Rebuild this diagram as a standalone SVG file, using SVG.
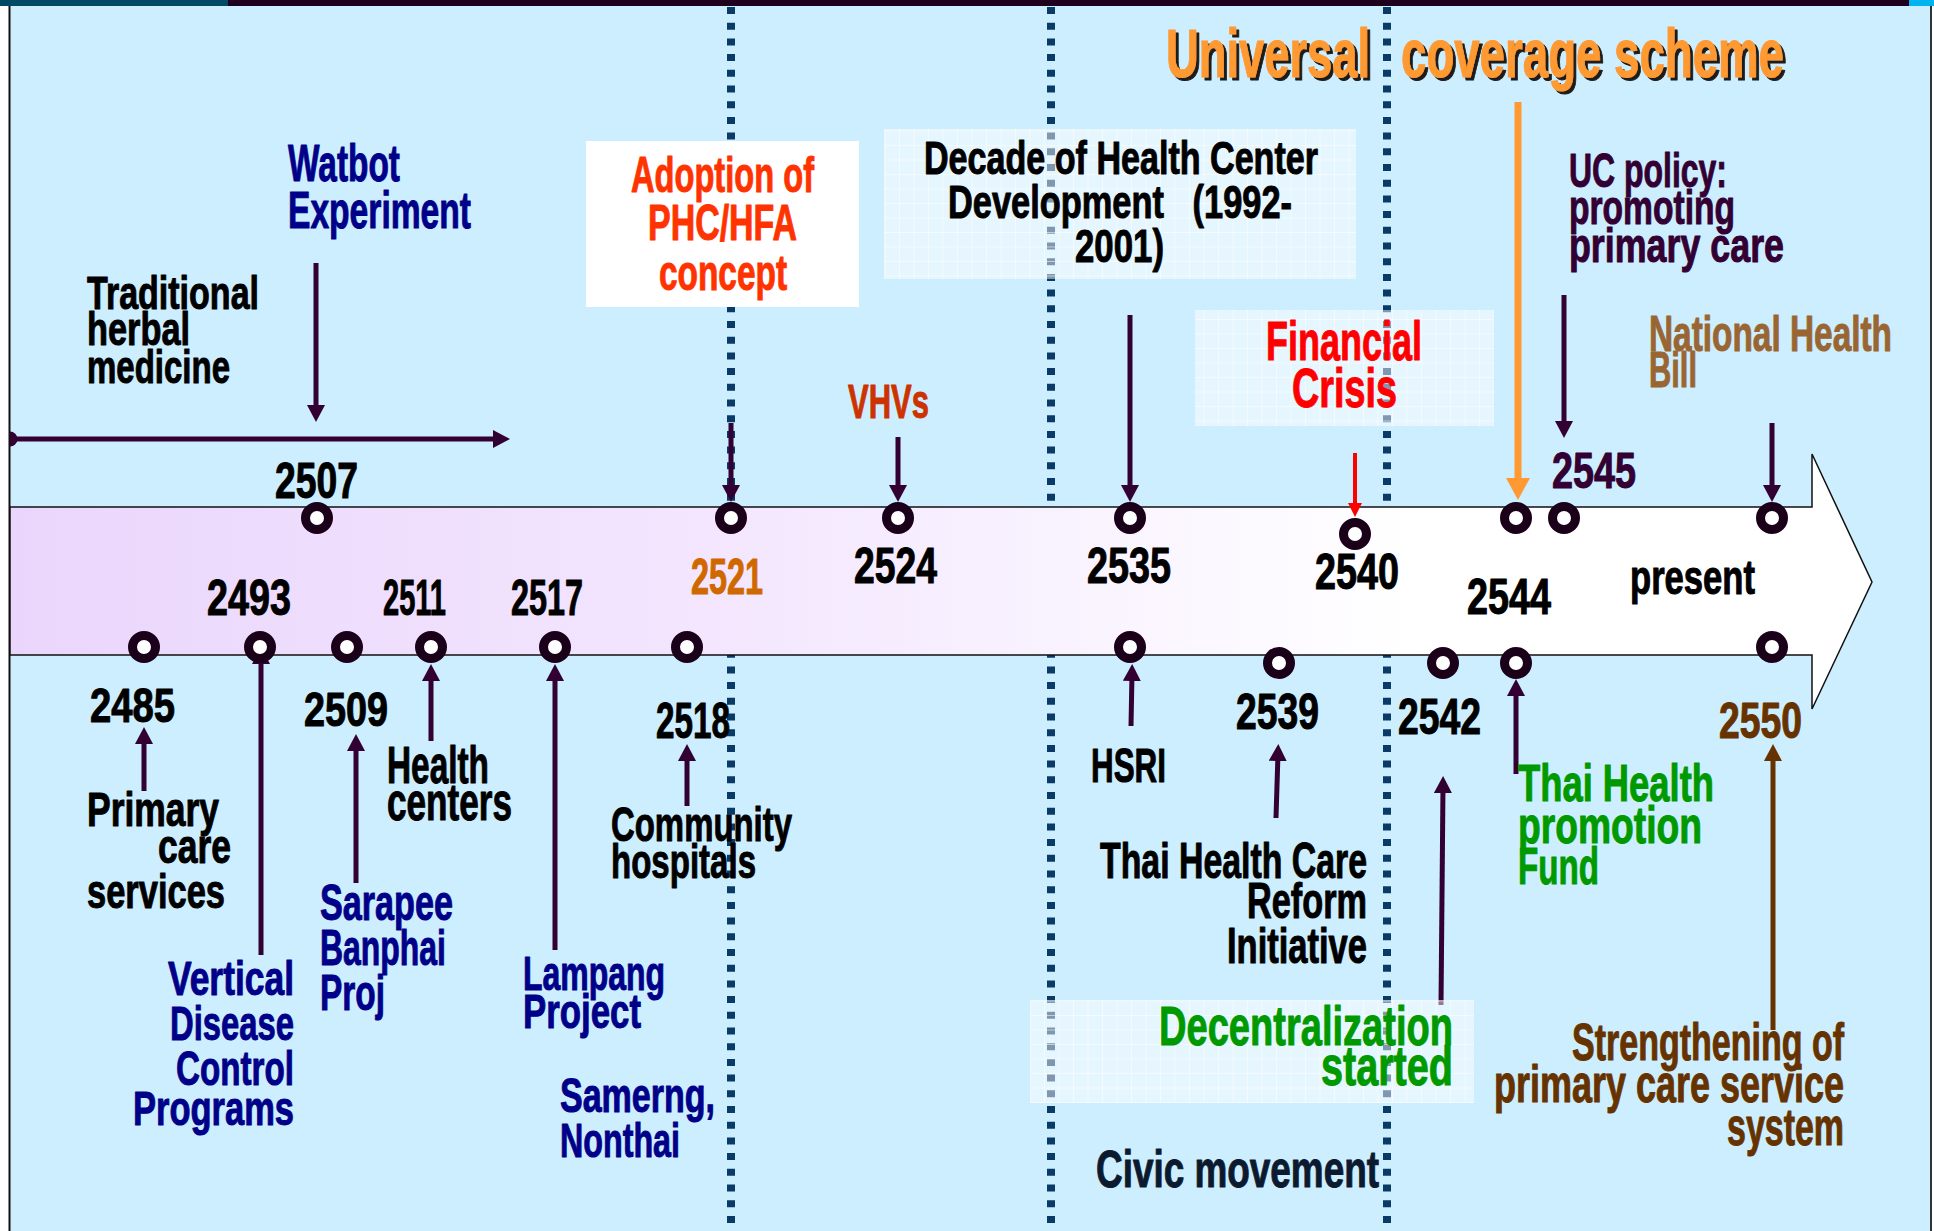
<svg xmlns="http://www.w3.org/2000/svg" width="1934" height="1231" viewBox="0 0 1934 1231">
  <style>
    .lbl { font-family: "Liberation Sans Narrow", "Liberation Sans", Arial, sans-serif; font-weight: bold; stroke-width: 1; stroke-linejoin: round; }
    .blk { fill: #000000; stroke: #000000; }
    .navy { fill: #000088; stroke: #000088; }
    .plum { fill: #330033; stroke: #330033; }
    .green { fill: #009900; stroke: #009900; }
    .brown { fill: #663300; stroke: #663300; }
    .phc { fill: #ff3300; stroke: #ff3300; }
    .vhv { fill: #cc3300; stroke: #cc3300; }
    .y2521 { fill: #d06800; stroke: #d06800; }
    .crisis { fill: #ff0000; stroke: #ff0000; }
    .ucs { fill: #ff9933; stroke: #ff9933; }
    .bill { fill: #996633; stroke: #996633; }
    .civic { fill: #0c1a30; stroke: #0c1a30; }
    .ring { fill: #ffffff; stroke: #1a0019; stroke-width: 9; }
    .era { stroke: #0a3a66; stroke-width: 8; stroke-dasharray: 7 8.7; fill: none; }
    .arr { stroke: #330033; stroke-width: 5; fill: none; marker-end: url(#head); }
    .glass { fill: #ffffff; fill-opacity: 0.48; }
  </style>
  <defs>
    <linearGradient id="bandFill" gradientUnits="userSpaceOnUse" x1="10" y1="0" x2="1420" y2="0">
      <stop offset="0" stop-color="#ead6fc"/>
      <stop offset="0.5" stop-color="#f3e6fe"/>
      <stop offset="1" stop-color="#ffffff"/>
    </linearGradient>
    <pattern id="grid" width="14.5" height="14.5" patternUnits="userSpaceOnUse">
      <path d="M0,0.5 H14.5 M0.5,0 V14.5" stroke="#ffffff" stroke-opacity="0.55" stroke-width="1" fill="none"/>
    </pattern>
    <filter id="shadow" x="-10%" y="-30%" width="120%" height="170%">
      <feDropShadow dx="3" dy="3" stdDeviation="0.4" flood-color="#1a1a1a" flood-opacity="1"/>
    </filter>
    <marker id="head" viewBox="0 0 17 18" refX="7" refY="9" markerWidth="17" markerHeight="18" markerUnits="userSpaceOnUse" orient="auto">
      <path d="M0,0 L17,9 L0,18 Z" fill="#330033"/>
    </marker>
    <marker id="headRed" viewBox="0 0 14 14" refX="4" refY="7" markerWidth="14" markerHeight="14" markerUnits="userSpaceOnUse" orient="auto">
      <path d="M0,0 L14,7 L0,14 Z" fill="#ff0000"/>
    </marker>
    <marker id="headOrange" viewBox="0 0 22 24" refX="7" refY="12" markerWidth="22" markerHeight="24" markerUnits="userSpaceOnUse" orient="auto">
      <path d="M0,0 L22,12 L0,24 Z" fill="#ff9933"/>
    </marker>
    <marker id="headBrown" viewBox="0 0 17 18" refX="7" refY="9" markerWidth="17" markerHeight="18" markerUnits="userSpaceOnUse" orient="auto">
      <path d="M0,0 L17,9 L0,18 Z" fill="#663300"/>
    </marker>
  </defs>

  <!-- page frame -->
  <rect x="0" y="0" width="1934" height="1231" fill="#ffffff"/>
  <rect x="10" y="6" width="1921" height="1225" fill="#cdeefe"/>
  <rect x="0" y="0" width="1934" height="6" fill="#1e001e"/>
  <rect x="0" y="0" width="228" height="6" fill="#004a66"/>
  <rect x="1909" y="0" width="25" height="6" fill="#00b4f0"/>
  <line x1="9.5" y1="6" x2="9.5" y2="1231" stroke="#111111" stroke-width="2"/>
  <line x1="1931" y1="6" x2="1931" y2="1231" stroke="#333333" stroke-width="2"/>

  <!-- period dividers -->
  <g id="period-dividers">
    <line class="era" x1="731" y1="7" x2="731" y2="1231"/>
    <line class="era" x1="1051" y1="7" x2="1051" y2="1231"/>
    <line class="era" x1="1387" y1="7" x2="1387" y2="1231"/>
  </g>

  <!-- timeline band -->
  <g id="timeline-band">
    <path d="M10,507 L1812,507 L1812,454 L1872,582 L1812,709 L1812,655 L10,655 Z" fill="url(#bandFill)" stroke="#111111" stroke-width="1.5"/>
  </g>

  <!-- connectors -->
  <g id="connectors">
    <path d="M10,431.5 A7.5,7.5 0 0 1 10,446.5 Z" fill="#330033"/>
    <line class="arr" x1="10" y1="439" x2="500" y2="439"/>
    <line class="arr" x1="316" y1="263" x2="316" y2="412"/>
    <line class="arr" x1="731" y1="423" x2="731" y2="492"/>
    <line class="arr" x1="898" y1="437" x2="898" y2="492"/>
    <line class="arr" x1="1130" y1="315" x2="1130" y2="492"/>
    <line x1="1355" y1="453" x2="1355" y2="507" stroke="#ff0000" stroke-width="4" marker-end="url(#headRed)"/>
    <line x1="1518" y1="102" x2="1518" y2="485" stroke="#ff9933" stroke-width="7" marker-end="url(#headOrange)"/>
    <line class="arr" x1="1564" y1="295" x2="1564" y2="428"/>
    <line class="arr" x1="1772" y1="423" x2="1772" y2="492"/>
    <line class="arr" x1="144" y1="791" x2="144" y2="737"/>
    <line class="arr" x1="261" y1="955" x2="261" y2="657"/>
    <line class="arr" x1="356" y1="883" x2="356" y2="744"/>
    <line class="arr" x1="431" y1="741" x2="431" y2="674"/>
    <line class="arr" x1="555" y1="950" x2="555" y2="674"/>
    <line class="arr" x1="687" y1="806" x2="687" y2="754"/>
    <line class="arr" x1="1131" y1="726" x2="1132" y2="674"/>
    <line class="arr" x1="1276" y1="818" x2="1278" y2="754"/>
    <line class="arr" x1="1441" y1="1005" x2="1443" y2="786"/>
    <line class="arr" x1="1516" y1="774" x2="1516" y2="689"/>
    <line x1="1773" y1="1030" x2="1773" y2="754" stroke="#663300" stroke-width="5" marker-end="url(#headBrown)"/>
  </g>

  <!-- events above the band -->
  <g id="traditional-herbal-medicine">
    <text class="lbl blk" x="87" y="309" font-size="47" textLength="172" lengthAdjust="spacingAndGlyphs">Traditional</text>
    <text class="lbl blk" x="87" y="345" font-size="47" textLength="103" lengthAdjust="spacingAndGlyphs">herbal</text>
    <text class="lbl blk" x="87" y="383" font-size="47" textLength="143" lengthAdjust="spacingAndGlyphs">medicine</text>
  </g>

  <g id="watbot-2507">
    <text class="lbl navy" x="288" y="181" font-size="52" textLength="112" lengthAdjust="spacingAndGlyphs">Watbot</text>
    <text class="lbl navy" x="288" y="228" font-size="52" textLength="183" lengthAdjust="spacingAndGlyphs">Experiment</text>
    <text class="lbl blk" x="275" y="498" font-size="50" textLength="83" lengthAdjust="spacingAndGlyphs">2507</text>
    <circle class="ring" cx="317" cy="518" r="11.5"/>
  </g>

  <g id="phc-hfa-2521">
    <rect x="586" y="141" width="273" height="166" fill="#ffffff"/>
    <text class="lbl phc" x="631" y="192" font-size="50" textLength="183" lengthAdjust="spacingAndGlyphs">Adoption of</text>
    <text class="lbl phc" x="648" y="240" font-size="50" textLength="149" lengthAdjust="spacingAndGlyphs">PHC/HFA</text>
    <text class="lbl phc" x="659" y="290" font-size="50" textLength="128" lengthAdjust="spacingAndGlyphs">concept</text>
    <text class="lbl y2521" x="691" y="594" font-size="50" textLength="72" lengthAdjust="spacingAndGlyphs">2521</text>
    <circle class="ring" cx="731" cy="518" r="11.5"/>
  </g>

  <g id="vhvs-2524">
    <text class="lbl vhv" x="848" y="418" font-size="49" textLength="81" lengthAdjust="spacingAndGlyphs">VHVs</text>
    <text class="lbl blk" x="854" y="583" font-size="50" textLength="83" lengthAdjust="spacingAndGlyphs">2524</text>
    <circle class="ring" cx="898" cy="518" r="11.5"/>
  </g>

  <g id="health-center-decade-2535">
    <rect class="glass" x="884" y="129" width="472" height="150"/>
    <rect x="884" y="129" width="472" height="150" fill="url(#grid)"/>
    <text class="lbl blk" x="924" y="174" font-size="47" textLength="394" lengthAdjust="spacingAndGlyphs">Decade of Health Center</text>
    <text class="lbl blk" x="948" y="218" font-size="47" textLength="344" lengthAdjust="spacingAndGlyphs" xml:space="preserve">Development   (1992-</text>
    <text class="lbl blk" x="1075" y="262" font-size="47" textLength="89" lengthAdjust="spacingAndGlyphs">2001)</text>
    <text class="lbl blk" x="1087" y="583" font-size="50" textLength="84" lengthAdjust="spacingAndGlyphs">2535</text>
    <circle class="ring" cx="1130" cy="518" r="11.5"/>
  </g>

  <g id="financial-crisis-2540">
    <rect class="glass" x="1195" y="310" width="299" height="116"/>
    <rect x="1195" y="310" width="299" height="116" fill="url(#grid)"/>
    <text class="lbl crisis" x="1266" y="360" font-size="56" textLength="156" lengthAdjust="spacingAndGlyphs">Financial</text>
    <text class="lbl crisis" x="1292" y="407" font-size="56" textLength="105" lengthAdjust="spacingAndGlyphs">Crisis</text>
    <text class="lbl blk" x="1315" y="589" font-size="50" textLength="84" lengthAdjust="spacingAndGlyphs">2540</text>
    <circle class="ring" cx="1355" cy="534" r="11.5"/>
  </g>

  <g id="universal-coverage-2544">
    <g filter="url(#shadow)">
      <text class="lbl ucs" x="1166" y="77" font-size="68" textLength="204" lengthAdjust="spacingAndGlyphs">Universal</text>
      <text class="lbl ucs" x="1401" y="77" font-size="68" textLength="383" lengthAdjust="spacingAndGlyphs">coverage scheme</text>
    </g>
    <circle class="ring" cx="1516" cy="518" r="11.5"/>
  </g>

  <g id="uc-policy-2545">
    <text class="lbl plum" x="1569" y="187" font-size="49" textLength="158" lengthAdjust="spacingAndGlyphs">UC policy:</text>
    <text class="lbl plum" x="1569" y="224" font-size="49" textLength="166" lengthAdjust="spacingAndGlyphs">promoting</text>
    <text class="lbl plum" x="1569" y="262" font-size="49" textLength="215" lengthAdjust="spacingAndGlyphs">primary care</text>
    <text class="lbl plum" x="1552" y="488" font-size="50" textLength="84" lengthAdjust="spacingAndGlyphs">2545</text>
    <circle class="ring" cx="1564" cy="518" r="11.5"/>
  </g>

  <g id="national-health-bill-present">
    <text class="lbl bill" x="1649" y="351" font-size="50" textLength="243" lengthAdjust="spacingAndGlyphs">National Health</text>
    <text class="lbl bill" x="1649" y="387" font-size="50" textLength="48" lengthAdjust="spacingAndGlyphs">Bill</text>
    <text class="lbl blk" x="1630" y="594" font-size="48" textLength="125" lengthAdjust="spacingAndGlyphs">present</text>
    <circle class="ring" cx="1772" cy="518" r="11.5"/>
  </g>

  <!-- events below the band -->
  <g id="primary-care-2485">
    <text class="lbl blk" x="90" y="722" font-size="48" textLength="85" lengthAdjust="spacingAndGlyphs">2485</text>
    <text class="lbl blk" x="87" y="826" font-size="49" textLength="132" lengthAdjust="spacingAndGlyphs">Primary</text>
    <text class="lbl blk" x="158" y="863" font-size="49" textLength="73" lengthAdjust="spacingAndGlyphs">care</text>
    <text class="lbl blk" x="87" y="908" font-size="49" textLength="138" lengthAdjust="spacingAndGlyphs">services</text>
    <circle class="ring" cx="144" cy="647" r="11.5"/>
  </g>

  <g id="vertical-programs-2493">
    <text class="lbl blk" x="207" y="615" font-size="50" textLength="84" lengthAdjust="spacingAndGlyphs">2493</text>
    <text class="lbl navy" x="168" y="995" font-size="49" textLength="126" lengthAdjust="spacingAndGlyphs">Vertical</text>
    <text class="lbl navy" x="170" y="1040" font-size="49" textLength="124" lengthAdjust="spacingAndGlyphs">Disease</text>
    <text class="lbl navy" x="176" y="1085" font-size="49" textLength="118" lengthAdjust="spacingAndGlyphs">Control</text>
    <text class="lbl navy" x="133" y="1125" font-size="49" textLength="161" lengthAdjust="spacingAndGlyphs">Programs</text>
    <circle class="ring" cx="260" cy="647" r="11.5"/>
  </g>

  <g id="sarapee-banphai-2509">
    <text class="lbl blk" x="304" y="726" font-size="48" textLength="84" lengthAdjust="spacingAndGlyphs">2509</text>
    <text class="lbl navy" x="320" y="920" font-size="50" textLength="133" lengthAdjust="spacingAndGlyphs">Sarapee</text>
    <text class="lbl navy" x="320" y="965" font-size="50" textLength="126" lengthAdjust="spacingAndGlyphs">Banphai</text>
    <text class="lbl navy" x="320" y="1010" font-size="50" textLength="65" lengthAdjust="spacingAndGlyphs">Proj</text>
    <circle class="ring" cx="347" cy="647" r="11.5"/>
  </g>

  <g id="health-centers-2511">
    <text class="lbl blk" x="383" y="615" font-size="50" textLength="63" lengthAdjust="spacingAndGlyphs">2511</text>
    <text class="lbl blk" x="387" y="783" font-size="51" textLength="102" lengthAdjust="spacingAndGlyphs">Health</text>
    <text class="lbl blk" x="387" y="820" font-size="51" textLength="125" lengthAdjust="spacingAndGlyphs">centers</text>
    <circle class="ring" cx="431" cy="647" r="11.5"/>
  </g>

  <g id="lampang-2517">
    <text class="lbl blk" x="511" y="615" font-size="50" textLength="72" lengthAdjust="spacingAndGlyphs">2517</text>
    <text class="lbl navy" x="523" y="990" font-size="49" textLength="142" lengthAdjust="spacingAndGlyphs">Lampang</text>
    <text class="lbl navy" x="523" y="1028" font-size="49" textLength="118" lengthAdjust="spacingAndGlyphs">Project</text>
    <text class="lbl navy" x="560" y="1112" font-size="48" textLength="155" lengthAdjust="spacingAndGlyphs">Samerng,</text>
    <text class="lbl navy" x="560" y="1157" font-size="48" textLength="120" lengthAdjust="spacingAndGlyphs">Nonthai</text>
    <circle class="ring" cx="555" cy="647" r="11.5"/>
  </g>

  <g id="community-hospitals-2518">
    <text class="lbl blk" x="656" y="738" font-size="50" textLength="74" lengthAdjust="spacingAndGlyphs">2518</text>
    <text class="lbl blk" x="611" y="841" font-size="49" textLength="181" lengthAdjust="spacingAndGlyphs">Community</text>
    <text class="lbl blk" x="611" y="878" font-size="49" textLength="145" lengthAdjust="spacingAndGlyphs">hospitals</text>
    <circle class="ring" cx="687" cy="647" r="11.5"/>
  </g>

  <g id="hsri-2535">
    <text class="lbl blk" x="1091" y="782" font-size="49" textLength="75" lengthAdjust="spacingAndGlyphs">HSRI</text>
    <circle class="ring" cx="1130" cy="647" r="11.5"/>
  </g>

  <g id="reform-initiative-2539">
    <text class="lbl blk" x="1236" y="729" font-size="50" textLength="83" lengthAdjust="spacingAndGlyphs">2539</text>
    <text class="lbl blk" x="1100" y="878" font-size="50" textLength="267" lengthAdjust="spacingAndGlyphs">Thai Health Care</text>
    <text class="lbl blk" x="1247" y="918" font-size="50" textLength="120" lengthAdjust="spacingAndGlyphs">Reform</text>
    <text class="lbl blk" x="1227" y="963" font-size="50" textLength="140" lengthAdjust="spacingAndGlyphs">Initiative</text>
    <text class="lbl civic" x="1096" y="1187" font-size="52" textLength="283" lengthAdjust="spacingAndGlyphs">Civic movement</text>
    <circle class="ring" cx="1279" cy="663" r="11.5"/>
  </g>

  <g id="decentralization-2542">
    <rect class="glass" x="1030" y="1000" width="444" height="103"/>
    <rect x="1030" y="1000" width="444" height="103" fill="url(#grid)"/>
    <text class="lbl green" x="1159" y="1045" font-size="56" textLength="294" lengthAdjust="spacingAndGlyphs">Decentralization</text>
    <text class="lbl green" x="1321" y="1085" font-size="56" textLength="132" lengthAdjust="spacingAndGlyphs">started</text>
    <text class="lbl blk" x="1398" y="734" font-size="50" textLength="83" lengthAdjust="spacingAndGlyphs">2542</text>
    <circle class="ring" cx="1443" cy="663" r="11.5"/>
  </g>

  <g id="health-promotion-fund-2544">
    <text class="lbl blk" x="1467" y="614" font-size="50" textLength="84" lengthAdjust="spacingAndGlyphs">2544</text>
    <text class="lbl green" x="1518" y="801" font-size="52" textLength="196" lengthAdjust="spacingAndGlyphs">Thai Health</text>
    <text class="lbl green" x="1518" y="843" font-size="52" textLength="184" lengthAdjust="spacingAndGlyphs">promotion</text>
    <text class="lbl green" x="1518" y="884" font-size="52" textLength="81" lengthAdjust="spacingAndGlyphs">Fund</text>
    <circle class="ring" cx="1516" cy="663" r="11.5"/>
  </g>

  <g id="primary-care-system-2550">
    <text class="lbl brown" x="1719" y="738" font-size="50" textLength="83" lengthAdjust="spacingAndGlyphs">2550</text>
    <text class="lbl brown" x="1572" y="1060" font-size="51" textLength="272" lengthAdjust="spacingAndGlyphs">Strengthening of</text>
    <text class="lbl brown" x="1494" y="1102" font-size="51" textLength="350" lengthAdjust="spacingAndGlyphs">primary care service</text>
    <text class="lbl brown" x="1727" y="1145" font-size="51" textLength="117" lengthAdjust="spacingAndGlyphs">system</text>
    <circle class="ring" cx="1772" cy="647" r="11.5"/>
  </g>
</svg>
